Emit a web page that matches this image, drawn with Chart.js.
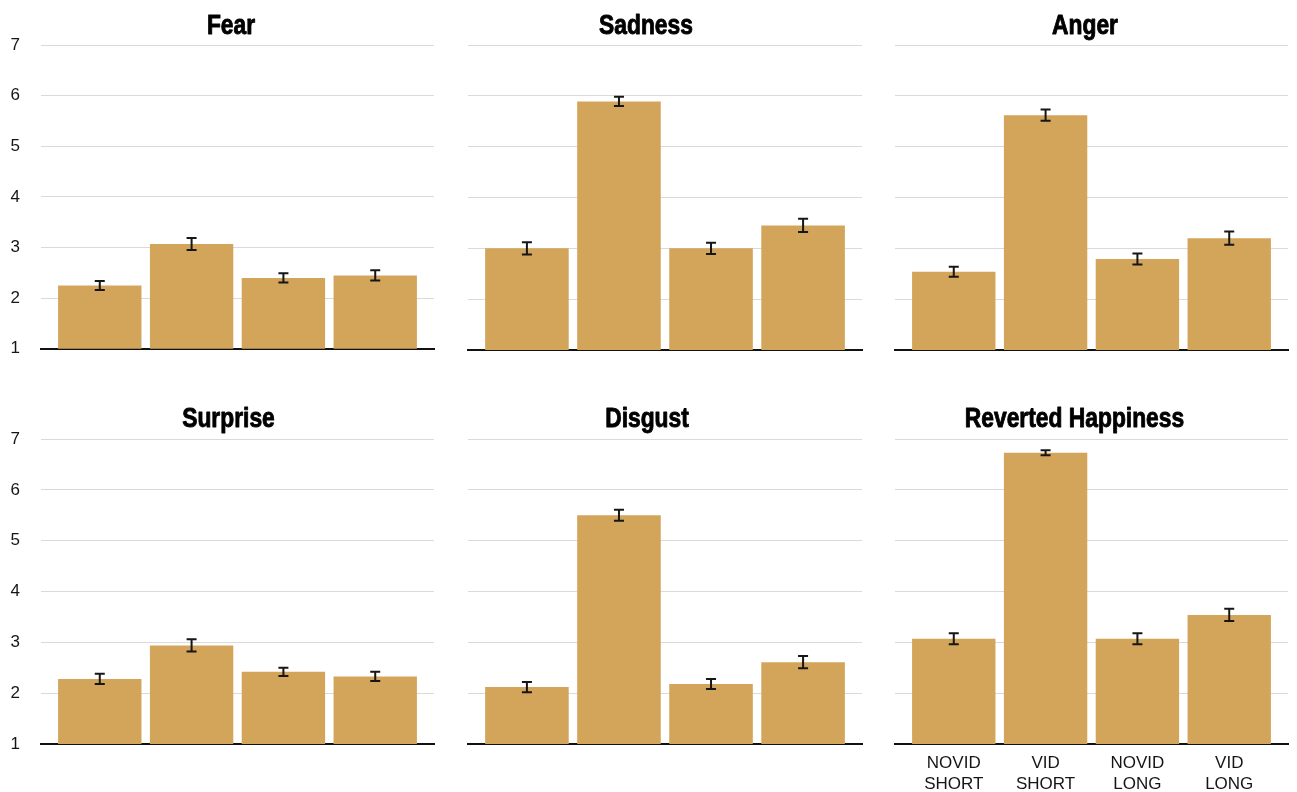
<!DOCTYPE html>
<html>
<head>
<meta charset="utf-8">
<script src="https://cdn.jsdelivr.net/npm/chart.js@4.4.1/dist/chart.umd.min.js"></script>
<style>
  html, body { margin: 0; padding: 0; background: #ffffff; }
  #grid { position: relative; width: 1297px; height: 792px; overflow: hidden; background: #ffffff; }
  #grid canvas { position: absolute; }
</style>
</head>
<body>
<div id="grid"></div>
<script>
// ---- data ----
const conditions = [['NOVID', 'SHORT'], ['VID', 'SHORT'], ['NOVID', 'LONG'], ['VID', 'LONG']];
const emotions = ['Fear', 'Sadness', 'Anger', 'Surprise', 'Disgust', 'Reverted Happiness'];
const yTickValues = [1, 2, 3, 4, 5, 6, 7];

const fearMeans       = [2.25, 3.07, 2.40, 2.45];
const fearErrors      = [0.09, 0.12, 0.09, 0.10];
const sadnessMeans    = [3.00, 5.89, 3.00, 3.45];
const sadnessErrors   = [0.12, 0.09, 0.11, 0.13];
const angerMeans      = [2.54, 5.62, 2.79, 3.20];
const angerErrors     = [0.10, 0.11, 0.11, 0.13];
const surpriseMeans   = [2.28, 2.94, 2.42, 2.33];
const surpriseErrors  = [0.10, 0.12, 0.08, 0.09];
const disgustMeans    = [2.12, 5.50, 2.18, 2.61];
const disgustErrors   = [0.10, 0.11, 0.10, 0.12];
const happinessMeans  = [3.07, 6.73, 3.07, 3.54];
const happinessErrors = [0.11, 0.05, 0.11, 0.12];

const meanSets  = [fearMeans, sadnessMeans, angerMeans, surpriseMeans, disgustMeans, happinessMeans];
const errorSets = [fearErrors, sadnessErrors, angerErrors, surpriseErrors, disgustErrors, happinessErrors];

// ---- layout ----
const BAR_COLOR = '#d3a55a';
const GRID_COLOR = '#dadada';
const TEXT_COLOR = '#151515';
const SANS = '"Liberation Sans", Arial, Helvetica, sans-serif';
const TITLE_FONT = 'bold 27px "Liberation Sans", Arial, Helvetica, sans-serif';
const TITLE_SQUEEZE = 0.845; // condensed look for the panel headings

const columns = [
  { left: 0,   width: 450, padL: 0,  padR: 16, axisW: 41 },
  { left: 450, width: 430, padL: 18, padR: 18, axisW: 0 },
  { left: 880, width: 417, padL: 15, padR: 9,  axisW: 0 }
];
const rows = [
  { top: 0,   height: 380, padT: 45, padB: 30, axisH: 0,  titleY: 33.5 },
  { top: 390, height: 402, padT: 49, padB: 0,  axisH: 48, titleY: 36.5 }
];
const titleCenters = [231, 646, 1085, 228.5, 647, 1074.5];

// panel title drawn above the plot area (a thin outline makes it heavier)
const panelTitle = {
  id: 'panelTitle',
  afterDraw(chart, args, opts) {
    const ctx = chart.ctx;
    ctx.save();
    ctx.font = TITLE_FONT;
    ctx.fillStyle = '#000000';
    ctx.strokeStyle = '#000000';
    ctx.lineWidth = 0.9;
    ctx.lineJoin = 'round';
    ctx.textAlign = 'center';
    ctx.textBaseline = 'alphabetic';
    ctx.translate(opts.x, opts.y);
    ctx.scale(TITLE_SQUEEZE, 1);
    ctx.fillText(opts.text, 0, 0);
    ctx.strokeText(opts.text, 0, 0);
    ctx.restore();
  }
};

// vertical error bars with caps, centred on each bar
const errorBars = {
  id: 'errorBars',
  afterDatasetsDraw(chart) {
    const ctx = chart.ctx;
    const yScale = chart.scales.y;
    chart.data.datasets.forEach((ds, di) => {
      const meta = chart.getDatasetMeta(di);
      meta.data.forEach((bar, i) => {
        const v = ds.data[i].y;
        const e = ds.errors[i];
        const x = bar.x;
        const hi = yScale.getPixelForValue(v + e);
        const lo = yScale.getPixelForValue(v - e);
        ctx.save();
        ctx.strokeStyle = '#161616';
        ctx.lineWidth = 2;
        ctx.beginPath();
        ctx.moveTo(x, hi); ctx.lineTo(x, lo);
        ctx.moveTo(x - 5, hi); ctx.lineTo(x + 5, hi);
        ctx.moveTo(x - 5, lo); ctx.lineTo(x + 5, lo);
        ctx.stroke();
        ctx.restore();
      });
    });
  }
};

const host = document.getElementById('grid');

emotions.forEach((name, idx) => {
  const col = columns[idx % 3];
  const row = rows[Math.floor(idx / 3)];
  const showY = col.axisW > 0;
  const showX = idx === emotions.length - 1;

  const canvas = document.createElement('canvas');
  canvas.width = col.width;
  canvas.height = row.height;
  canvas.style.left = col.left + 'px';
  canvas.style.top = row.top + 'px';
  canvas.style.width = col.width + 'px';
  canvas.style.height = row.height + 'px';
  host.appendChild(canvas);

  new Chart(canvas, {
    type: 'bar',
    data: {
      datasets: [{
        data: meanSets[idx].map((v, k) => ({ x: k, y: v })),
        errors: errorSets[idx],
        backgroundColor: BAR_COLOR,
        borderWidth: 0,
        barPercentage: 0.908,
        categoryPercentage: 1
      }]
    },
    options: {
      responsive: false,
      animation: false,
      devicePixelRatio: 1,
      layout: { padding: { left: col.padL, right: col.padR, top: row.padT, bottom: row.padB } },
      plugins: {
        legend: { display: false },
        tooltip: { enabled: false },
        panelTitle: { text: name, x: titleCenters[idx] - col.left, y: row.titleY }
      },
      scales: {
        x: {
          type: 'linear',
          min: -0.64,
          max: 3.64,
          offset: false,
          grid: { display: false, drawTicks: false },
          border: { display: true, color: '#111111', width: 2 },
          ticks: {
            display: showX,
            stepSize: 1,
            includeBounds: false,
            autoSkip: false,
            maxRotation: 0,
            padding: 9,
            color: TEXT_COLOR,
            font: { family: SANS, size: 17, lineHeight: 1.24 },
            callback: (v) => (Number.isInteger(v) && conditions[v]) ? conditions[v] : ''
          },
          afterFit: (s) => { s.height = row.axisH; }
        },
        y: {
          min: yTickValues[0],
          max: yTickValues[yTickValues.length - 1],
          afterBuildTicks: (s) => { s.ticks = yTickValues.map(v => ({ value: v })); },
          grid: {
            drawTicks: false,
            lineWidth: 1,
            color: (c) => (c.tick && c.tick.value === yTickValues[0]) ? 'rgba(0,0,0,0)' : GRID_COLOR
          },
          border: { display: false },
          ticks: {
            display: showY,
            padding: 21,
            color: TEXT_COLOR,
            font: { family: SANS, size: 17 }
          },
          afterFit: (s) => { s.width = col.axisW; }
        }
      }
    },
    plugins: [panelTitle, errorBars]
  });
});
</script>
</body>
</html>
